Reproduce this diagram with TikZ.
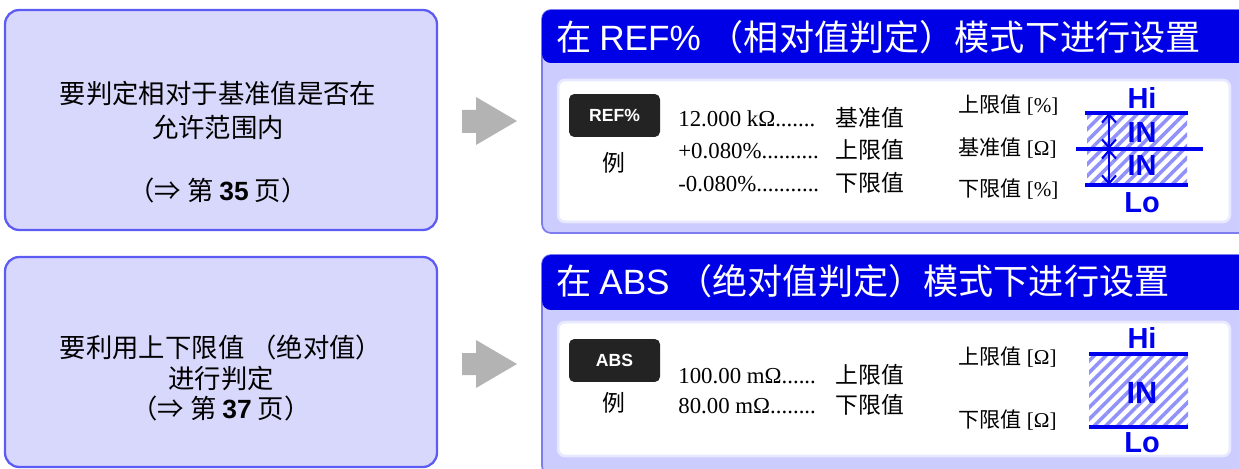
\documentclass[tikz,border=0pt]{standalone}
\usepackage{fontspec}
\setmainfont{Liberation Serif}
\setsansfont{Liberation Sans}
\newfontfamily\cjk{Noto Sans CJK SC}
\usepackage{xcolor}
\usetikzlibrary{arrows.meta,patterns.meta,positioning}

\definecolor{reqfill}{RGB}{216,216,252}
\definecolor{reqline}{RGB}{92,92,245}
\definecolor{panelfill}{RGB}{204,204,255}
\definecolor{panelline}{RGB}{125,125,240}
\definecolor{titleblue}{RGB}{0,0,230}
\definecolor{keygray}{RGB}{35,35,35}
\definecolor{arrowgray}{RGB}{179,179,179}
\definecolor{limblue}{RGB}{0,0,240}
\definecolor{hatchblue}{RGB}{145,145,250}

\newcommand\valline[2]{\makebox[3.15cm][l]{#1}{\cjk #2}}

\begin{document}
\begin{tikzpicture}[
    x=0.02cm, y=-0.02cm,
    reqbox/.style={draw=reqline, fill=reqfill, line width=1.3pt, rounded corners=8pt, minimum width=8.64cm},
    reqtext/.style={font=\cjk\fontsize{15}{19.3}\selectfont, align=center, inner sep=0pt},
    panel/.style={draw=panelline, fill=panelfill, line width=1pt, rounded corners=5pt, minimum width=14.6cm, inner sep=0pt},
    titlebar/.style={fill=titleblue, rounded corners=5pt, minimum width=14.6cm, inner sep=0pt},
    titletext/.style={text=white, font=\cjk\fontsize{20}{24}\selectfont, inner sep=0pt, anchor=west},
    innerbox/.style={draw=panelfill!45, fill=white, line width=1.5pt, rounded corners=4pt, minimum width=13.44cm},
    modekey/.style={fill=keygray, rounded corners=3pt, minimum width=1.82cm, minimum height=0.86cm, text=white, font=\sffamily\bfseries\fontsize{10}{12}\selectfont},
    egtext/.style={font=\cjk\fontsize{13}{15}\selectfont, inner sep=0pt},
    valtext/.style={align=left, anchor=west, inner sep=0pt},
    limtext/.style={anchor=west, inner sep=0pt, font=\fontsize{12}{14}\selectfont},
    limlabel/.style={text=limblue, font=\sffamily\bfseries\fontsize{16.5}{18}\selectfont, inner sep=0pt},
    limline/.style={draw=limblue, line width=2.3pt},
    hatched/.style={pattern={Lines[angle=45,distance=4.7pt,line width=2pt]}, pattern color=hatchblue},
    inarrow/.style={draw=limblue, line width=1.2pt, {Straight Barb[length=1.6mm,width=2.8mm]}-{Straight Barb[length=1.6mm,width=2.8mm]}},
    goarrow/.style={fill=arrowgray}
]
    \clip (0,0) rectangle (1239,469);

    % Requirement boxes
    \node[reqbox, minimum height=4.4cm] (req1) at (221,120) {};
    \node[reqtext] (req1txt) at (218,110) {要判定相对于基准值是否在\\允许范围内};
    \node[reqtext] (req1pg) at (218,190) {（⇒ 第 {\sffamily\bfseries 35} 页）};

    \node[reqbox, minimum height=4.2cm] (req2) at (221,362) {};
    \node[reqtext, font=\cjk\fontsize{15}{17.3}\selectfont] (req2txt) at (221,378) {要利用上下限值 （绝对值）\\进行判定\\（⇒ 第 {\sffamily\bfseries 37} 页）};

    % Gray arrows
    \fill[goarrow] (462,110) -- (476,110) -- (476,97) -- (517,121) -- (476,145) -- (476,133) -- (462,133) -- cycle;
    \fill[goarrow] (462,353) -- (476,353) -- (476,340) -- (517,364) -- (476,388) -- (476,375) -- (462,375) -- cycle;

    % REF% panel
    \node[panel, minimum height=4.46cm] (ref) at (907,121.5) {};
    \node[titlebar, minimum height=1.06cm] (reftitle) at (907,36.5) {};
    \node[titletext] (reftitletxt) at (556,37) {在 {\sffamily REF\%} （相对值判定）模式下进行设置};
    \node[innerbox, minimum height=2.84cm] (refinner) at (894,151) {};
    \node[modekey] (refkey) at (614.5,115.5) {REF\%};
    \node[egtext] (refeg) at (614,163) {例};
    \node[valtext, font=\fontsize{13}{18.4}\selectfont] (refvals) at (678,150) {%
        \valline{12.000 kΩ.......}{基准值}\\
        \valline{+0.080\%..........}{上限值}\\
        \valline{-0.080\%...........}{下限值}};
    \node[limtext] (refhi) at (958,105) {{\cjk 上限值} [\%]};
    \node[limtext] (refref) at (958,148) {{\cjk 基准值} [Ω]};
    \node[limtext] (reflo) at (958,189) {{\cjk 下限值} [\%]};

    % REF% limits
    \fill[hatched] (1087,113) rectangle (1187,185);
    \coordinate (reftop) at (1109,113);
    \coordinate (refmid) at (1109,149);
    \coordinate (refbot) at (1109,185);
    \draw[limline] (1085,113) -- (1188,113);
    \draw[limline] (1076,149) -- (1203,149);
    \draw[limline] (1085,185) -- (1188,185);
    \draw[inarrow] (reftop) -- (refmid);
    \draw[inarrow] (refmid) -- (refbot);
    \node[limlabel] (refhilbl) at (1142,98) {Hi};
    \node[limlabel] (refin1) at (1142,133) {IN};
    \node[limlabel] (refin2) at (1142,166) {IN};
    \node[limlabel] (reflolbl) at (1142,203) {Lo};

    % ABS panel
    \node[panel, minimum height=4.4cm] (abs) at (907,365) {};
    \node[titlebar, minimum height=1.1cm] (abstitle) at (907,282.5) {};
    \node[titletext] (abstitletxt) at (556,281) {在 {\sffamily ABS} （绝对值判定）模式下进行设置};
    \node[innerbox, minimum height=2.68cm] (absinner) at (894,389) {};
    \node[modekey] (abskey) at (614.5,360.5) {ABS};
    \node[egtext] (abseg) at (614,403) {例};
    \node[valtext, font=\fontsize{13}{17}\selectfont] (absvals) at (678,390) {%
        \valline{100.00 mΩ......}{上限值}\\
        \valline{80.00 mΩ........}{下限值}};
    \node[limtext] (abshi) at (958,357) {{\cjk 上限值} [Ω]};
    \node[limtext] (abslo) at (958,420) {{\cjk 下限值} [Ω]};

    % ABS limits
    \fill[hatched] (1089,354) rectangle (1188,427);
    \draw[limline] (1089,354) -- (1188,354);
    \draw[limline] (1089,427) -- (1188,427);
    \node[limlabel] (abshilbl) at (1142,338) {Hi};
    \node[limlabel, font=\sffamily\bfseries\fontsize{17.5}{20}\selectfont] (absin) at (1142,393) {IN};
    \node[limlabel] (abslolbl) at (1142,443) {Lo};
\end{tikzpicture}
\end{document}
